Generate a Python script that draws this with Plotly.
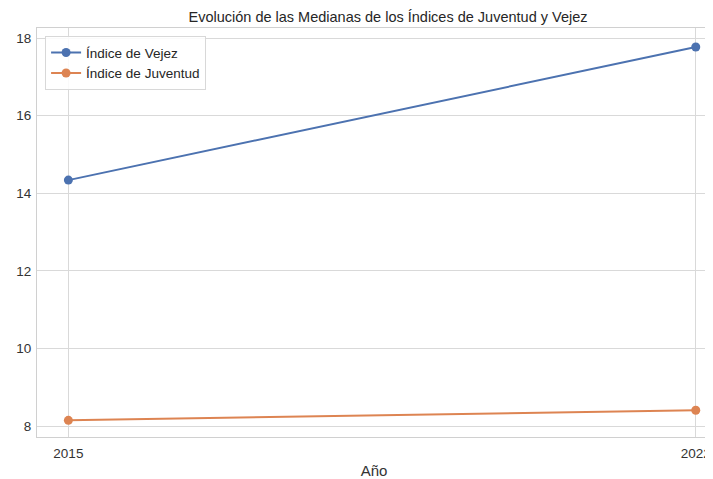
import plotly.graph_objects as go

years = [2015, 2022]
vejez = [14.34, 17.77]
juventud = [8.15, 8.41]
series_names = ["Índice de Vejez", "Índice de Juventud"]
colors = ["#4C72B0", "#DD8452"]

fig = go.Figure()
for name, vals, c in zip(series_names, [vejez, juventud], colors):
    fig.add_trace(go.Scatter(
        x=years, y=vals, mode="lines+markers", name=name,
        line=dict(color=c, width=2), marker=dict(color=c, size=9),
    ))

# page body has an 8px default margin; size the figure to fill the rest
fig.update_layout(
    width=705, height=471,
    margin=dict(l=29, r=2, t=20, b=42, autoexpand=False),
    paper_bgcolor="white", plot_bgcolor="white",
    font=dict(family="Liberation Sans, Arial", size=13, color="#333333"),
    title=dict(text="Evolución de las Medianas de los Índices de Juventud y Vejez",
               x=0.539, xanchor="center", y=0.981, yanchor="middle",
               font=dict(size=14.5, color="#262626")),
    legend=dict(x=0.012, y=0.98, xanchor="left", yanchor="top",
                bgcolor="rgba(255,255,255,0.85)", bordercolor="#d8d8d8", borderwidth=1,
                font=dict(size=13.5, color="#262626"), tracegroupgap=0),
    showlegend=True,
)
fig.update_xaxes(
    automargin=False,
    range=[2014.65, 2022.17], tickvals=years, ticktext=[str(y) for y in years],
    showgrid=True, gridcolor="#d9d9d9", gridwidth=1,
    showline=True, linecolor="#d0d0d0", mirror=True, zeroline=False,
    ticks="", ticklen=0, ticklabelstandoff=4, ticklabeloverflow="allow",
    tickfont=dict(size=13.5, color="#333333"),
    title=dict(text="Año", font=dict(size=15, color="#333333"), standoff=10),
)
fig.update_yaxes(
    automargin=False,
    range=[7.72, 18.26], tickvals=[8, 10, 12, 14, 16, 18],
    showgrid=True, gridcolor="#d9d9d9", gridwidth=1,
    showline=True, linecolor="#d0d0d0", mirror=True, zeroline=False,
    ticks="", ticklabelstandoff=2, tickfont=dict(size=13.5, color="#333333"),
)

fig.write_html("out.html")
